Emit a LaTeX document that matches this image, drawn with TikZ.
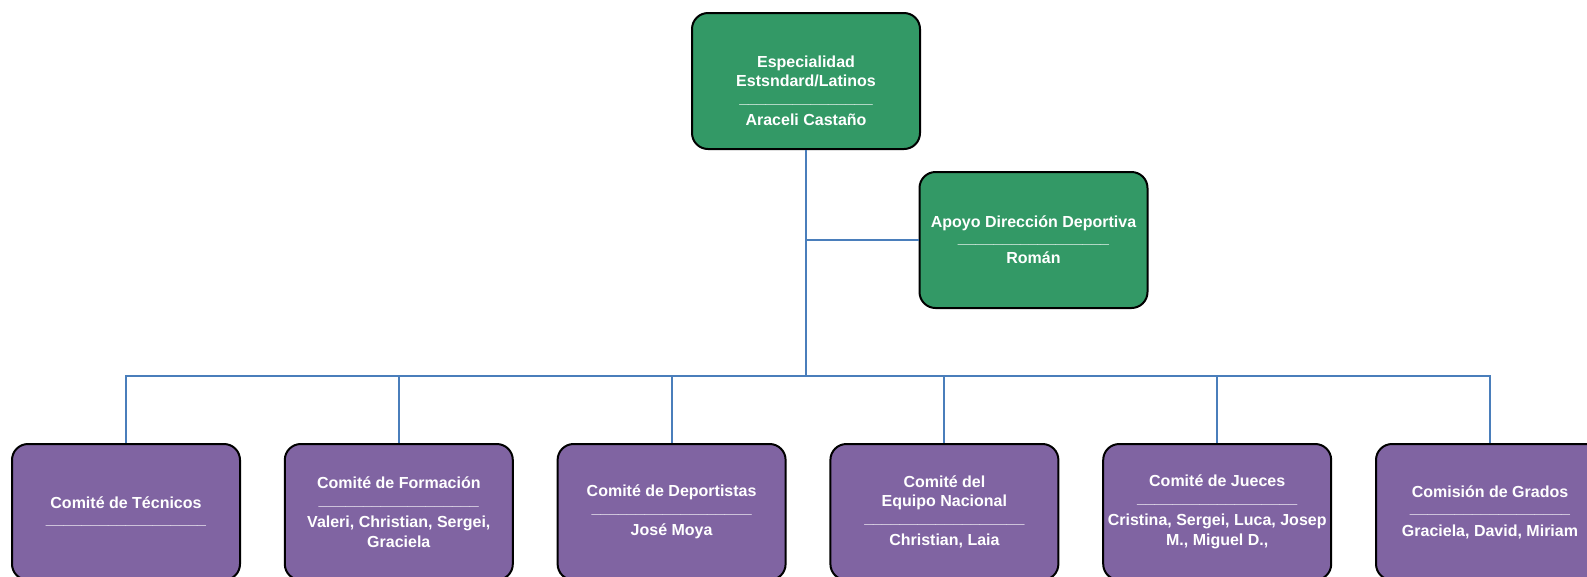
\documentclass[tikz,border=0pt]{standalone}
\usepackage{fontspec}
\setmainfont{Liberation Sans}
\usetikzlibrary{positioning}
\definecolor{espgreen}{RGB}{51,153,102}
\definecolor{compurple}{RGB}{128,100,162}
\definecolor{linkblue}{RGB}{74,126,187}
\newcommand{\bars}[1]{\raisebox{2pt}{\foreach \k in {1,...,#1}{\_}}}

\begin{document}
\begin{tikzpicture}[x=0.75pt,y=-0.75pt,
                boxtext/.style={text=white,align=center,inner sep=2pt,
                    font=\fontsize{12}{14.6}\selectfont\bfseries},
                boxbase/.style={boxtext,draw=black,line width=1.5pt,rounded corners=12pt,
                    minimum width=171pt,minimum height=102pt},
                headbox/.style={boxbase,fill=espgreen},
                combox/.style={boxbase,fill=compurple},
                link/.style={draw=linkblue,line width=1.4pt}
            ]
                \useasboundingbox (0,0) rectangle (1587,576);
                % top of the chart
                \node[headbox] (esp) at (806,81) {};
                \node[boxtext] (esp-text) at ([yshift=-7.5pt]esp.center)
                    {Especialidad\\Estsndard/Latinos\\\bars{15}\\Araceli Castaño};
                \node[headbox] (apoyo) at (1033.5,240)
                    {Apoyo Dirección Deportiva\\[-1pt]\bars{17}\\[-1pt]Román};
                % committees
                \node[combox] (tec)  at (126,512)   {Comité de Técnicos\\\bars{18}};
                \node[combox] (form) at (398.8,512) {Comité de Formación\\\bars{18}\\Valeri, Christian, Sergei,\\Graciela};
                \node[combox] (dep)  at (671.6,512) {Comité de Deportistas\\\bars{18}\\José Moya};
                \node[combox] (eqn)  at (944.4,512) {Comité del\\Equipo Nacional\\\bars{18}\\Christian, Laia};
                \node[combox] (jue)  at (1217.2,512) {Comité de Jueces\\\bars{18}\\Cristina, Sergei, Luca, Josep\\M., Miguel D.,};
                \node[combox] (gra)  at (1490,512)  {Comisión de Grados\\\bars{18}\\Graciela, David, Miriam};
                % connectors
                \coordinate (hub) at (806,376);
                \draw[link] (esp.south) -- (hub);
                \draw[link] (apoyo.west) -- (apoyo.west -| esp.south);
                \foreach \c in {tec,form,dep,eqn,jue,gra}
                    \draw[link] (hub) -| (\c.north);
            \end{tikzpicture}
\end{document}
